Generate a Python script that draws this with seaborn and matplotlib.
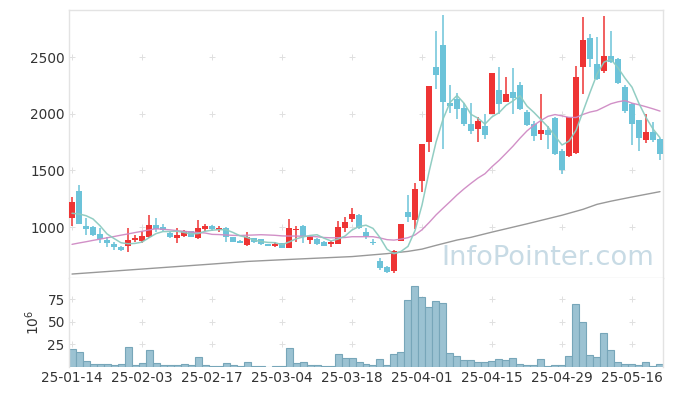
import numpy as np
import pandas as pd
import matplotlib
matplotlib.use("Agg")
import matplotlib.pyplot as plt
import seaborn as sns

# ---------------- data ----------------
holidays = ["2025-01-27", "2025-01-28", "2025-01-29", "2025-01-30",
            "2025-03-03", "2025-05-01", "2025-05-05", "2025-05-06"]
dates = pd.bdate_range("2025-01-14", "2025-05-22", freq="C", holidays=holidays)

opens = [1082, 1318, 1009, 1000, 938, 883, 850, 824, 835, 885,
         876, 909, 1018, 1000, 950, 906, 924, 962, 906, 982,
         1009, 974, 988, 909, 879, 844, 900, 891, 847, 835,
         856, 818, 975, 1009, 885, 894, 871, 847, 850, 994,
         1071, 1109, 959, 868, 703, 650, 615, 879, 1130, 1062,
         1406, 1753, 2409, 2606, 2091, 2129, 2047, 1906, 1868, 1891,
         1994, 2209, 2106, 2191, 2253, 2015, 1909, 1818, 1856, 1965,
         1671, 1629, 1656, 2414, 2668, 2438, 2379, 2509, 2482, 2238,
         2085, 1944, 1768, 1835, 1774]
highs = [1267, 1371, 1077, 1010, 988, 909, 871, 835, 988, 929,
         968, 1106, 1077, 1024, 955, 988, 974, 968, 1062, 1026,
         1018, 1009, 1000, 915, 885, 959, 905, 895, 850, 871,
         862, 1068, 1009, 1018, 929, 900, 877, 877, 1053, 1086,
         1165, 1115, 988, 897, 729, 659, 797, 1030, 1282, 1385,
         1732, 2244, 2730, 2871, 2253, 2180, 2090, 2091, 1968, 1997,
         2359, 2414, 2321, 2400, 2282, 2030, 1938, 2171, 1891, 1974,
         1686, 1974, 2421, 2856, 2703, 2680, 2862, 2730, 2490, 2250,
         2091, 1944, 1997, 1929, 1782]
lows = [1009, 1025, 929, 925, 856, 821, 797, 785, 782, 865,
        856, 900, 959, 968, 905, 856, 915, 910, 894, 965,
        962, 959, 867, 868, 856, 835, 862, 840, 832, 824,
        812, 818, 871, 856, 850, 845, 830, 824, 848, 959,
        1047, 985, 897, 838, 621, 597, 591, 875, 1047, 978,
        1308, 1662, 2215, 1686, 2010, 1950, 1895, 1821, 1747, 1774,
        1994, 1997, 2099, 1997, 2032, 1890, 1762, 1768, 1686, 1633,
        1465, 1615, 1644, 2171, 2409, 2300, 2356, 2444, 2265, 2010,
        1724, 1674, 1744, 1753, 1591]
closes = [1221, 1029, 985, 929, 891, 862, 826, 797, 885, 906,
          921, 1018, 979, 975, 909, 932, 965, 915, 991, 1009,
          979, 991, 909, 871, 862, 909, 868, 847, 835, 850,
          818, 988, 985, 921, 915, 850, 835, 865, 1003, 1047,
          1118, 988, 924, 862, 641, 606, 788, 1026, 1085, 1335,
          1732, 2244, 2341, 2106, 2071, 2038, 1906, 1850, 1935, 1812,
          2359, 2085, 2174, 2135, 2041, 1900, 1803, 1856, 1812, 1644,
          1503, 1974, 2326, 2650, 2482, 2306, 2509, 2453, 2274, 2026,
          1909, 1788, 1835, 1768, 1641]
# volume in millions of shares
volumes = [19.3, 16.0, 6.0, 2.6, 2.6, 2.6, 1.5, 2.6, 21.5, 1.5,
           3.7, 18.2, 3.7, 1.5, 1.5, 1.5, 2.6, 1.5, 10.4, 1.5,
           0.7, 0.7, 3.7, 1.5, 0.7, 4.8, 0.7, 0.7, 0.2, 0.7,
           0.3, 20.4, 3.7, 4.8, 1.5, 1.5, 0.7, 0.7, 13.7, 9.3,
           9.3, 4.8, 2.6, 1.5, 8.1, 1.5, 13.7, 16.0, 73.7, 89.3,
           77.1, 66.0, 72.6, 70.4, 14.8, 11.5, 7.1, 7.1, 4.8, 4.8,
           5.9, 8.1, 7.1, 9.3, 2.6, 1.5, 1.5, 8.1, 0.7, 1.5,
           1.5, 11.5, 69.3, 49.3, 12.6, 10.4, 37.1, 18.2, 4.8, 2.6,
           2.6, 1.5, 4.8, 0.7, 2.6]
# moving-average values for the first days (need data before the window)
ma5_head = [1121, 1115, 1100, 1071]
ma20_head = [847, 859, 870, 882, 893, 905, 916, 928, 939, 951,
             962, 974, 985, 980, 975, 968, 962, 956, 951]
# long moving average, read at sample points
ma_long_idx = [0, 5, 10, 15, 20, 25, 30, 35, 40, 45, 48, 50, 52, 55,
               57, 60, 65, 70, 73, 75, 77, 80, 84]
ma_long_val = [585, 607, 629, 651, 673, 696, 711, 725, 739, 765, 785, 805,
               838, 885, 909, 955, 1028, 1104, 1156, 1200, 1228, 1265, 1312]

price_ticks = [1000, 1500, 2000, 2500]
vol_ticks = [25, 50, 75]

# ---------------- frame ----------------
n = len(closes)
idx = np.arange(n)
df = pd.DataFrame({"i": idx, "open": opens, "high": highs, "low": lows,
                   "close": closes, "volume": volumes})
df["date"] = list(dates[:n])
ma5 = df["close"].rolling(5).mean().to_numpy()
ma5[:len(ma5_head)] = ma5_head
ma20 = df["close"].rolling(20).mean().to_numpy()
ma20[:len(ma20_head)] = ma20_head
df["ma5"] = ma5
df["ma20"] = ma20
long_df = pd.DataFrame({"i": ma_long_idx, "ma": ma_long_val})

sns.set_theme(style="white")
plt.rcParams["font.family"] = ["DejaVu Sans"]

RED = "#ee3434"
BLUE = "#6cc3d9"
fig = plt.figure(figsize=(6.73, 3.96), dpi=100)
ax = fig.add_axes([69 / 673, 1 - 278 / 396, 594 / 673, 268 / 396])
axv = fig.add_axes([69 / 673, 1 - 366.7 / 396, 594 / 673, 88.7 / 396], sharex=ax)

# grid crosses
xt = idx[::10]
gx, gy = np.meshgrid(xt, price_ticks)
ax.scatter(gx.ravel(), gy.ravel(), marker="+", s=18, color="#e0e0e0",
           linewidths=0.7, zorder=0)
gx, gy = np.meshgrid(xt, vol_ticks)
axv.scatter(gx.ravel(), gy.ravel(), marker="+", s=18, color="#e0e0e0",
            linewidths=0.7, zorder=0)

# watermark
ax.text(0.985, 0.047, "InfoPointer.com", transform=ax.transAxes,
        ha="right", va="baseline", fontsize=19.7, color="#c8dbe5",
        zorder=1)

# candles
up = df["close"] >= df["open"]
colors = np.where(up, RED, BLUE)
body_lo = np.minimum(df["open"], df["close"])
body_h = np.maximum(np.abs(df["close"] - df["open"]), 4)
ax.vlines(df["i"], df["low"], df["high"], colors=colors, linewidth=1.1, zorder=3)
ax.bar(df["i"], body_h, bottom=body_lo, width=0.72, color=colors,
       linewidth=0, zorder=4)

# moving averages
sns.lineplot(data=long_df, x="i", y="ma", ax=ax, color="#999999",
             linewidth=1.0, zorder=5)
sns.lineplot(data=df, x="i", y="ma20", ax=ax, color="#cf8ac4",
             linewidth=1.0, zorder=5, alpha=0.95)
sns.lineplot(data=df, x="i", y="ma5", ax=ax, color="#8ccbc0",
             linewidth=1.1, zorder=6, alpha=0.95)

# volume
axv.bar(df["i"], df["volume"], width=1.0, color="#9bc2d2",
        edgecolor="#77a6b9", linewidth=0.8, zorder=2)

# axes styling
ax.set_xlim(-0.43, n - 1 + 0.43)
ax.set_ylim(550, 2915)
axv.set_ylim(0, 98.6)
ax.set_yticks(price_ticks)
axv.set_yticks(vol_ticks)
axv.set_xticks(xt)
axv.set_xticklabels([d.strftime("%y-%m-%d") for d in df["date"].iloc[::10]])
ax.tick_params(axis="x", labelbottom=False, length=0)
for a in (ax, axv):
    a.tick_params(axis="both", length=0, labelsize=9.8, colors="#333333", pad=3)
    a.set_xlabel("")
    a.set_ylabel("")
    for s in a.spines.values():
        s.set_color("#e3e3e3")
        s.set_linewidth(1.0)
axv.spines["bottom"].set_visible(False)
axv.spines["top"].set_visible(False)
axv.set_ylabel("$10^6$", fontsize=10, color="#333333", labelpad=4)

fig.savefig("out.png", dpi=100)
